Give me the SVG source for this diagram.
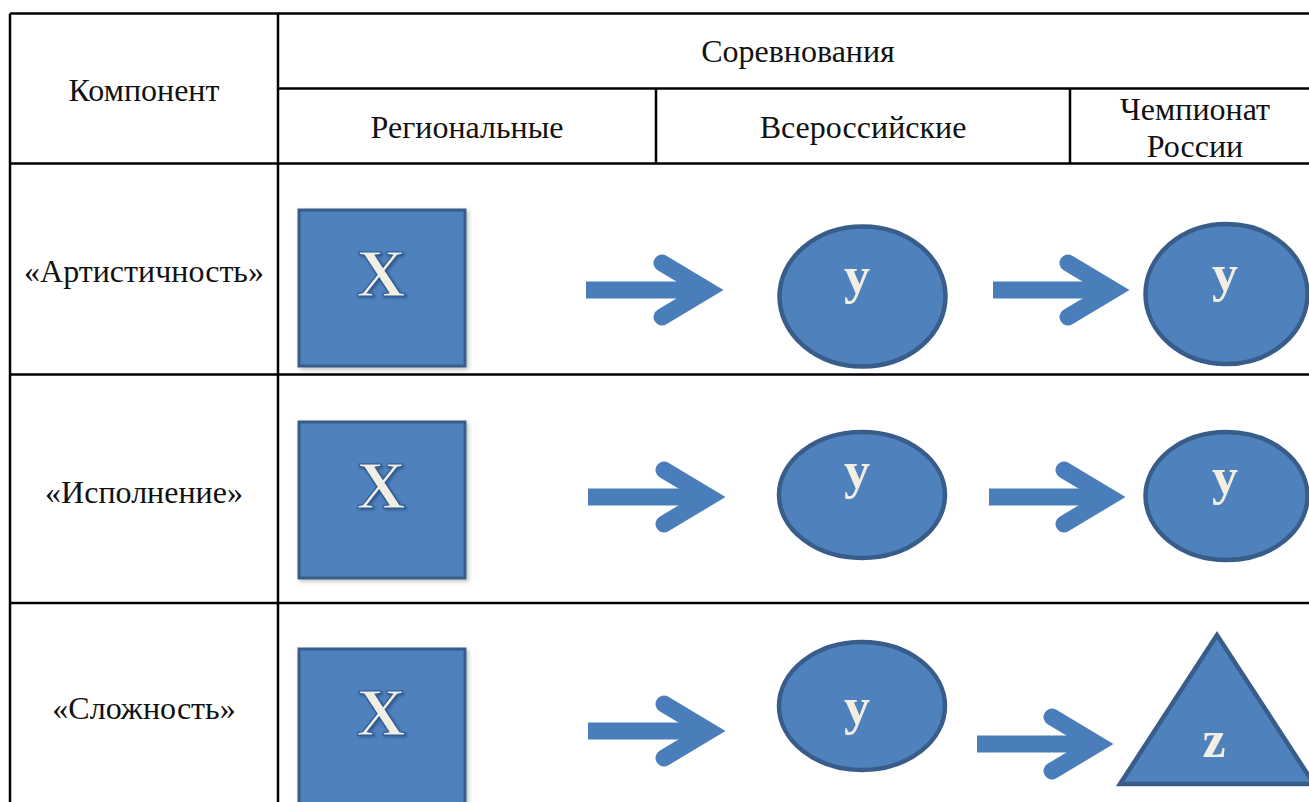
<svg xmlns="http://www.w3.org/2000/svg" width="1309" height="802" viewBox="0 0 1309 802">
<defs>
<filter id="sh" x="-10%" y="-10%" width="130%" height="130%"><feDropShadow dx="2" dy="2" stdDeviation="2" flood-color="#000" flood-opacity="0.25"/></filter>
<filter id="tsh" x="-20%" y="-20%" width="150%" height="150%"><feDropShadow dx="1.5" dy="1.5" stdDeviation="1" flood-color="#1F3F6F" flood-opacity="0.6"/></filter>
<style>
.grid{stroke:#000;stroke-width:2.5;fill:none}
.t{font-family:"Liberation Serif","Times New Roman",serif;font-size:32px;fill:#111;text-anchor:middle}
.shape{fill:#4F81BD;stroke:#385D8A}
.sq{stroke-width:3}
.el{stroke-width:4.5}
.lbl{font-family:"Liberation Serif","Times New Roman",serif;font-weight:bold;fill:#F2EFE2;text-anchor:middle}
.bigx{font-size:68px;stroke:#2A5A9A;stroke-width:1.2}
.sm{font-size:52px}
.shaft{stroke:#4A7EBB;stroke-width:17;fill:none}
.head{stroke:#4A7EBB;stroke-width:17;fill:none;stroke-linecap:round;stroke-linejoin:miter;stroke-miterlimit:10}
</style>
</defs>
<g id="table">
<path class="grid" d="M10,13.5 H1309 M10,13.5 V802 M278,13.5 V802 M278,88.5 H1309 M656,88.5 V163.5 M1070,88.5 V163.5 M10,163.5 H1309 M10,374.5 H1309 M10,603 H1309"/>
<text class="t" x="144" y="101">Компонент</text>
<text class="t" x="798" y="62">Соревнования</text>
<text class="t" x="467" y="138">Региональные</text>
<text class="t" x="863" y="138">Всероссийские</text>
<text class="t" x="1195" y="120">Чемпионат</text>
<text class="t" x="1195" y="157">России</text>
<text class="t" x="144" y="282">«Артистичность»</text>
<text class="t" x="144" y="503">«Исполнение»</text>
<text class="t" x="144" y="719">«Сложность»</text>
</g>
<g id="connectors">
<path class="shaft" d="M586,290 H700"/><path class="head" d="M662,263 L707,290 L662,317"/>
<path class="shaft" d="M993,290 H1106"/><path class="head" d="M1068,263 L1113,290 L1068,317"/>
<path class="shaft" d="M588,497 H702"/><path class="head" d="M664,470 L709,497 L664,524"/>
<path class="shaft" d="M989,497 H1102"/><path class="head" d="M1064,470 L1109,497 L1064,524"/>
<path class="shaft" d="M588,731 H702"/><path class="head" d="M664,704 L709,731 L664,758"/>
<path class="shaft" d="M977,744 H1090"/><path class="head" d="M1052,717 L1097,744 L1052,771"/>
</g>
<g id="x1"><rect class="shape sq" x="299" y="210" width="166" height="156" filter="url(#sh)"/><text class="lbl bigx" x="381" y="296" filter="url(#tsh)">X</text></g>
<g id="y1a"><ellipse class="shape el" cx="862.5" cy="296.5" rx="83" ry="70"/><text class="lbl sm" x="857" y="293">y</text></g>
<g id="y1b"><ellipse class="shape el" cx="1226.5" cy="294" rx="81" ry="70"/><text class="lbl sm" x="1225" y="291">y</text></g>
<g id="x2"><rect class="shape sq" x="299" y="422" width="166" height="156" filter="url(#sh)"/><text class="lbl bigx" x="381" y="508" filter="url(#tsh)">X</text></g>
<g id="y2a"><ellipse class="shape el" cx="862" cy="495" rx="83" ry="63"/><text class="lbl sm" x="857" y="488">y</text></g>
<g id="y2b"><ellipse class="shape el" cx="1226.5" cy="496" rx="81" ry="64"/><text class="lbl sm" x="1225" y="494">y</text></g>
<g id="x3"><rect class="shape sq" x="299" y="649" width="166" height="156" filter="url(#sh)"/><text class="lbl bigx" x="381" y="735" filter="url(#tsh)">X</text></g>
<g id="y3a"><ellipse class="shape el" cx="862" cy="706" rx="83" ry="64"/><text class="lbl sm" x="857" y="724">y</text></g>
<g id="z3"><polygon class="shape el" points="1217,635 1120,784 1314,784"/><text class="lbl sm" x="1214" y="757">z</text></g>
</svg>
